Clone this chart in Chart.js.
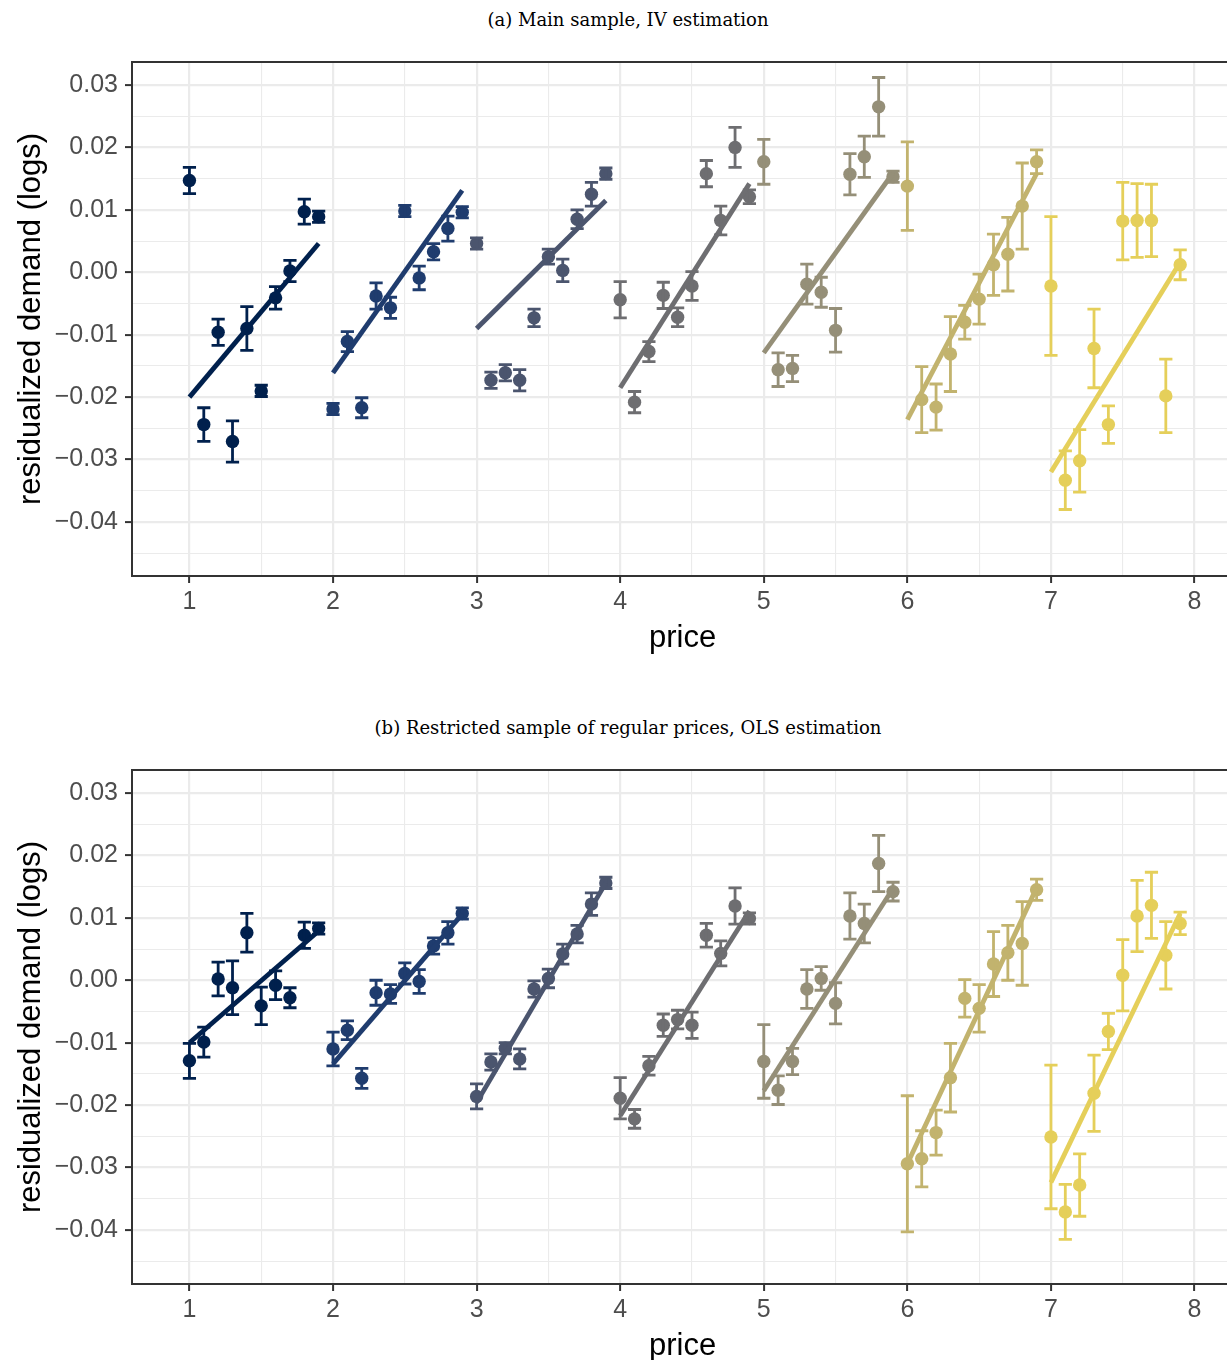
<!DOCTYPE html>
<html>
<head>
<meta charset="utf-8">
<script src="https://cdn.jsdelivr.net/npm/chart.js@4.4.1/dist/chart.umd.min.js"></script>
<style>
  body { margin: 0; width: 1227px; height: 1360px; overflow: hidden; position: relative; background: #fff; }
  canvas { position: absolute; left: 0; }
  .ttl { position: absolute; left: 0; width: 1256px; text-align: center; font-family: "DejaVu Serif", serif; font-size: 18px; line-height: 24px; color: #000; }
</style>
</head>
<body>
<div class="ttl" style="top:8px">(a) Main sample, IV estimation</div>
<canvas id="panelA" width="1240" height="680" style="top:0"></canvas>
<div class="ttl" style="top:716px">(b) Restricted sample of regular prices, OLS estimation</div>
<canvas id="panelB" width="1240" height="680" style="top:708px"></canvas>
<script>
// prices, 10 per colour group
var prices = [
  1.0, 1.1, 1.2, 1.3, 1.4, 1.5, 1.6, 1.7, 1.8, 1.9,
  2.0, 2.1, 2.2, 2.3, 2.4, 2.5, 2.6, 2.7, 2.8, 2.9,
  3.0, 3.1, 3.2, 3.3, 3.4, 3.5, 3.6, 3.7, 3.8, 3.9,
  4.0, 4.1, 4.2, 4.3, 4.4, 4.5, 4.6, 4.7, 4.8, 4.9,
  5.0, 5.1, 5.2, 5.3, 5.4, 5.5, 5.6, 5.7, 5.8, 5.9,
  6.0, 6.1, 6.2, 6.3, 6.4, 6.5, 6.6, 6.7, 6.8, 6.9,
  7.0, 7.1, 7.2, 7.3, 7.4, 7.5, 7.6, 7.7, 7.8, 7.9
];

// (a) main sample, IV
var demandA = [
  0.0147, -0.0244, -0.0096, -0.0271, -0.0090, -0.0190, -0.0041, 0.0002, 0.0097, 0.0089,
  -0.0219, -0.0111, -0.0217, -0.0038, -0.0057, 0.0098, -0.0009, 0.0033, 0.0070, 0.0096,
  0.0046, -0.0173, -0.0161, -0.0173, -0.0073, 0.0025, 0.0003, 0.0085, 0.0125, 0.0158,
  -0.0044, -0.0208, -0.0127, -0.0037, -0.0072, -0.0022, 0.0158, 0.0083, 0.0200, 0.0121,
  0.0177, -0.0156, -0.0154, -0.0019, -0.0032, -0.0093, 0.0157, 0.0185, 0.0265, 0.0153,
  0.0138, -0.0204, -0.0216, -0.0131, -0.0080, -0.0043, 0.0012, 0.0029, 0.0106, 0.0177,
  -0.0022, -0.0333, -0.0302, -0.0122, -0.0244, 0.0082, 0.0083, 0.0083, -0.0198, 0.0012
];
var errA = [
  0.0021, 0.0027, 0.0021, 0.0033, 0.0035, 0.0009, 0.0018, 0.0017, 0.0020, 0.0009,
  0.0009, 0.0016, 0.0016, 0.0021, 0.0017, 0.0009, 0.0019, 0.0013, 0.0020, 0.0009,
  0.0009, 0.0013, 0.0013, 0.0017, 0.0014, 0.0012, 0.0018, 0.0015, 0.0019, 0.0009,
  0.0029, 0.0017, 0.0016, 0.0021, 0.0015, 0.0023, 0.0021, 0.0023, 0.0032, 0.0011,
  0.0036, 0.0027, 0.0021, 0.0032, 0.0024, 0.0035, 0.0033, 0.0033, 0.0047, 0.0009,
  0.0071, 0.0053, 0.0037, 0.0060, 0.0027, 0.0040, 0.0049, 0.0059, 0.0069, 0.0019,
  0.0111, 0.0047, 0.0050, 0.0063, 0.0030, 0.0062, 0.0059, 0.0058, 0.0059, 0.0024
];
var lineStartA = [-0.0200, -0.0161, -0.0090, -0.0185, -0.0129, -0.0236, -0.0320];
var lineEndA   = [ 0.0046,  0.0131,  0.0115,  0.0142,  0.0159,  0.0158,  0.0016];

// (b) regular prices, OLS
var demandB = [
  -0.0129, -0.0099, 0.0002, -0.0012, 0.0076, -0.0041, -0.0008, -0.0028, 0.0072, 0.0083,
  -0.0110, -0.0080, -0.0157, -0.0020, -0.0022, 0.0011, -0.0002, 0.0055, 0.0076, 0.0107,
  -0.0186, -0.0131, -0.0109, -0.0126, -0.0014, 0.0003, 0.0042, 0.0074, 0.0122, 0.0156,
  -0.0189, -0.0222, -0.0137, -0.0072, -0.0063, -0.0072, 0.0072, 0.0043, 0.0119, 0.0099,
  -0.0130, -0.0176, -0.0130, -0.0014, 0.0003, -0.0037, 0.0103, 0.0091, 0.0187, 0.0142,
  -0.0294, -0.0286, -0.0244, -0.0156, -0.0029, -0.0045, 0.0026, 0.0044, 0.0059, 0.0145,
  -0.0251, -0.0371, -0.0328, -0.0181, -0.0082, 0.0008, 0.0103, 0.0120, 0.0040, 0.0091
];
var errB = [
  0.0028, 0.0024, 0.0027, 0.0043, 0.0031, 0.0030, 0.0023, 0.0016, 0.0021, 0.0009,
  0.0027, 0.0015, 0.0016, 0.0020, 0.0015, 0.0017, 0.0019, 0.0013, 0.0018, 0.0009,
  0.0020, 0.0013, 0.0009, 0.0016, 0.0013, 0.0015, 0.0016, 0.0014, 0.0018, 0.0009,
  0.0033, 0.0015, 0.0015, 0.0018, 0.0015, 0.0021, 0.0019, 0.0020, 0.0029, 0.0009,
  0.0059, 0.0023, 0.0021, 0.0031, 0.0019, 0.0033, 0.0037, 0.0031, 0.0045, 0.0015,
  0.0109, 0.0045, 0.0036, 0.0055, 0.0030, 0.0038, 0.0052, 0.0044, 0.0067, 0.0017,
  0.0115, 0.0044, 0.0050, 0.0061, 0.0029, 0.0057, 0.0057, 0.0053, 0.0054, 0.0018
];
var lineStartB = [-0.0100, -0.0134, -0.0196, -0.0217, -0.0177, -0.0294, -0.0324];
var lineEndB   = [ 0.0079,  0.0106,  0.0156,  0.0111,  0.0147,  0.0148,  0.0107];

// axis ticks
var xMajor = [1, 2, 3, 4, 5, 6, 7, 8];
var xTickLabels = ['1', '2', '3', '4', '5', '6', '7', '8'];
var xMinor = [1.5, 2.5, 3.5, 4.5, 5.5, 6.5, 7.5];
var yMajor = [-0.04, -0.03, -0.02, -0.01, 0, 0.01, 0.02, 0.03];
var yTickLabels = ['\u22120.04', '\u22120.03', '\u22120.02', '\u22120.01', '0.00', '0.01', '0.02', '0.03'];
var yMinor = [-0.045, -0.035, -0.025, -0.015, -0.005, 0.005, 0.015, 0.025];

var colors = ['#00204d', '#1f3c6e', '#4b556e', '#6e6e71', '#958f78', '#c2b36e', '#e5cf5a'];

var isMajor = (list, v) => list.some(m => Math.abs(m - v) < 1e-9);

var errorBars = {
  id: 'errorBars',
  afterDatasetDraw(chart, args) {
    var ds = chart.data.datasets[args.index];
    if (!ds.errors) return;
    var xs = chart.scales.x, ys = chart.scales.y, ctx = chart.ctx;
    ctx.save();
    ctx.strokeStyle = ds.backgroundColor;
    ctx.lineWidth = 2.8;
    ds.data.forEach((p, i) => {
      var px = xs.getPixelForValue(p.x);
      var top = ys.getPixelForValue(p.y + ds.errors[i]);
      var bot = ys.getPixelForValue(p.y - ds.errors[i]);
      ctx.beginPath();
      ctx.moveTo(px, top); ctx.lineTo(px, bot);
      ctx.moveTo(px - 6.6, top); ctx.lineTo(px + 6.6, top);
      ctx.moveTo(px - 6.6, bot); ctx.lineTo(px + 6.6, bot);
      ctx.stroke();
    });
    ctx.restore();
  }
};

var panelBorder = {
  id: 'panelBorder',
  afterDraw(chart) {
    var a = chart.chartArea, ctx = chart.ctx;
    ctx.save();
    ctx.strokeStyle = '#333333';
    ctx.lineWidth = 2;
    ctx.strokeRect(a.left, a.top, a.right - a.left, a.bottom - a.top);
    ctx.restore();
  }
};

var makePanel = (canvasId, demand, errs, lineStart, lineEnd) => {
  var datasets = [];
  colors.forEach((c, g) => {
    var idx = prices.map((p, i) => i).filter(i => Math.floor(i / 10) === g);
    datasets.push({
      type: 'scatter',
      data: idx.map(i => ({ x: prices[i], y: demand[i] })),
      errors: idx.map(i => errs[i]),
      backgroundColor: c,
      borderColor: c,
      borderWidth: 0,
      pointRadius: 6.7,
      order: 2
    });
    datasets.push({
      type: 'line',
      data: [
        { x: prices[idx[0]], y: lineStart[g] },
        { x: prices[idx[idx.length - 1]], y: lineEnd[g] }
      ],
      borderColor: c,
      borderWidth: 4.8,
      pointRadius: 0,
      fill: false,
      order: 1
    });
  });

  var tickFont = { family: '"Liberation Sans", Arial, sans-serif', size: 25 };
  var titleFont = { family: '"Liberation Sans", Arial, sans-serif', size: 31 };

  return new Chart(document.getElementById(canvasId), {
    data: { datasets: datasets },
    options: {
      responsive: false,
      devicePixelRatio: 1,
      animation: false,
      layout: { padding: { top: 62, right: 4, bottom: 0, left: 0 } },
      plugins: {
        legend: { display: false },
        tooltip: { enabled: false }
      },
      scales: {
        x: {
          type: 'linear',
          min: 0.60,
          max: 8.27,
          afterBuildTicks: (scale) => {
            scale.ticks = xMajor.concat(xMinor).sort((a, b) => a - b).map(v => ({ value: v }));
          },
          afterFit: (scale) => { scale.height = 104; },
          ticks: {
            autoSkip: false,
            maxRotation: 0,
            padding: 4,
            color: '#4d4d4d',
            font: tickFont,
            callback: (v) => isMajor(xMajor, v) ? xTickLabels[xMajor.indexOf(Math.round(v))] : ''
          },
          grid: {
            color: '#ebebeb',
            lineWidth: (ctx) => ctx.tick && isMajor(xMajor, ctx.tick.value) ? 2.2 : 1.1,
            tickColor: (ctx) => ctx.tick && isMajor(xMajor, ctx.tick.value) ? '#333333' : 'rgba(0,0,0,0)',
            tickLength: 7,
            tickWidth: 2
          },
          border: { display: false },
          title: {
            display: true,
            text: 'price',
            color: '#000',
            font: titleFont,
            padding: { top: 0, bottom: 23 }
          }
        },
        y: {
          type: 'linear',
          min: -0.04865,
          max: 0.03368,
          afterBuildTicks: (scale) => {
            scale.ticks = yMajor.concat(yMinor).sort((a, b) => a - b).map(v => ({ value: v }));
          },
          afterFit: (scale) => { scale.width = 132; },
          ticks: {
            autoSkip: false,
            padding: 7,
            color: '#4d4d4d',
            font: tickFont,
            callback: (v) => {
              var k = yMajor.findIndex(m => Math.abs(m - v) < 1e-9);
              return k >= 0 ? yTickLabels[k] : '';
            }
          },
          grid: {
            color: '#ebebeb',
            lineWidth: (ctx) => ctx.tick && isMajor(yMajor, ctx.tick.value) ? 2.2 : 1.1,
            tickColor: (ctx) => ctx.tick && isMajor(yMajor, ctx.tick.value) ? '#333333' : 'rgba(0,0,0,0)',
            tickLength: 7,
            tickWidth: 2
          },
          border: { display: false },
          title: {
            display: true,
            text: 'residualized demand (logs)',
            color: '#000',
            font: titleFont,
            padding: { top: 13, bottom: 0 }
          }
        }
      }
    },
    plugins: [errorBars, panelBorder]
  });
};

makePanel('panelA', demandA, errA, lineStartA, lineEndA);
makePanel('panelB', demandB, errB, lineStartB, lineEndB);
</script>
</body>
</html>
